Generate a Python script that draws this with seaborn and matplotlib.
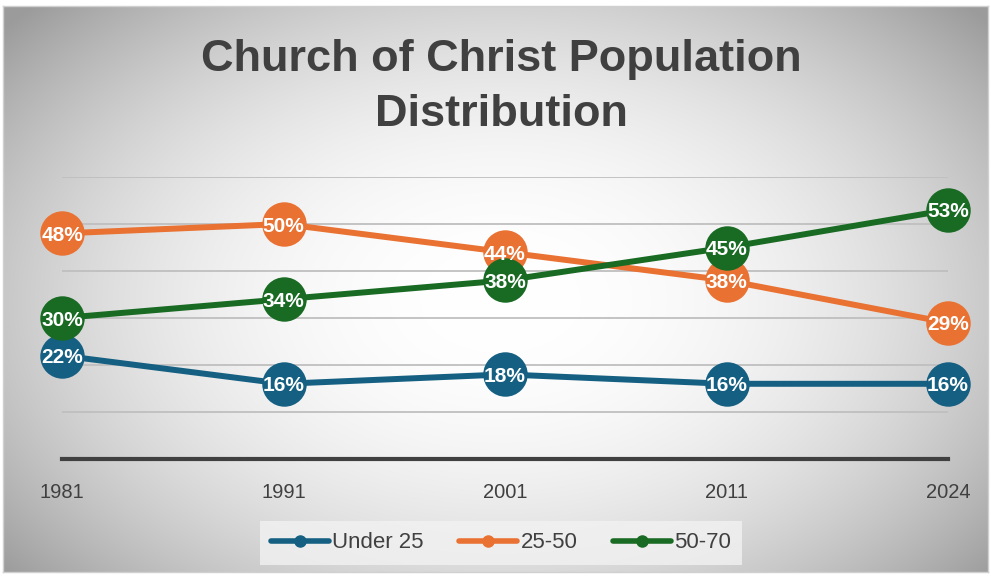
import numpy as np
import pandas as pd
import matplotlib
matplotlib.use("Agg")
import matplotlib.pyplot as plt
import seaborn as sns
from matplotlib.lines import Line2D

years = ["1981", "1991", "2001", "2011", "2024"]
under25 = [22, 16, 18, 16, 16]
age25_50 = [48, 50, 44, 38, 29]
age50_70 = [30, 34, 38, 45, 53]
series_names = ["Under 25", "25-50", "50-70"]
colors = ["#156082", "#E97132", "#196B24"]
title = "Church of Christ Population\nDistribution"

sns.set_theme(style="white")
plt.rcParams['font.family'] = ['Liberation Sans', 'DejaVu Sans']

W, H = 991, 577
fig = plt.figure(figsize=(W / 100, H / 100), dpi=100)
fig.patch.set_facecolor("white")

# background radial gradient panel
bx0, by0, bx1, by1 = 3, 6, 988, 572
bg = fig.add_axes([bx0 / W, 1 - by1 / H, (bx1 - bx0) / W, (by1 - by0) / H], zorder=0)
yy, xx = np.mgrid[by0:by1, bx0:bx1]
r = np.sqrt(((xx - 500) / 520.0) ** 2 + ((yy - 300) / 340.0) ** 2)
v = 1.0 - 0.24 * np.clip(r, 0, 1.25) ** 2.2
bg.imshow(np.dstack([v, v, v]), aspect="auto", extent=[0, 1, 0, 1], vmin=0, vmax=1)
bg.set_xticks([]); bg.set_yticks([])
for s in bg.spines.values():
    s.set_color("#d0d0d0"); s.set_linewidth(1)

# main axes
x0, x1 = 62, 948
ytop, ybot = 177, 459
ax = fig.add_axes([x0 / W, 1 - ybot / H, (x1 - x0) / W, (ybot - ytop) / H], zorder=2)
ax.patch.set_alpha(0)

df = pd.DataFrame({
    "Year": years * 3,
    "Value": under25 + age25_50 + age50_70,
    "Series": sum([[n] * len(years) for n in series_names], []),
})
df["pos"] = df["Year"].map({y: i for i, y in enumerate(years)})

sns.lineplot(data=df, x="pos", y="Value", hue="Series", palette=colors,
             hue_order=series_names, marker="o", markersize=32, linewidth=4.3,
             markeredgewidth=0, legend=False, ax=ax, clip_on=False, zorder=3)
for ln in ax.lines:
    ln.set_clip_on(False)

for name, vals in zip(series_names, [under25, age25_50, age50_70]):
    for i, val in enumerate(vals):
        ax.text(i, val, f"{val}%", ha="center", va="center_baseline", color="white",
                fontsize=15, fontweight="bold", zorder=5)

ax.set_xlim(0, len(years) - 1)
ax.set_ylim(0, 60)
ax.set_yticks([10, 20, 30, 40, 50, 60])
ax.yaxis.grid(True, color="#bfbfbf", linewidth=1.3, zorder=1)
ax.xaxis.grid(False)
ax.set_yticklabels([])
ax.tick_params(axis="y", length=0)
ax.set_xticks(range(len(years)))
ax.set_xticklabels(years, fontsize=14.5, color="#404040")
ax.tick_params(axis="x", length=0, pad=17)
ax.set_xlabel(""); ax.set_ylabel("")
for k in ["left", "right", "top"]:
    ax.spines[k].set_visible(False)
ax.spines["bottom"].set_color("#404040")
ax.spines["bottom"].set_linewidth(3)

fig.text(0.506, 1 - 87 / H, title, ha="center", va="center", fontsize=32.5,
         fontweight="bold", color="#404040", linespacing=1.42)

handles = [Line2D([0], [0], color=c, lw=4, marker="o", markersize=8,
                  solid_capstyle="round") for c in colors]
leg = fig.legend(handles, series_names, loc="center", bbox_to_anchor=(501 / W, 1 - 543 / H),
                 ncol=3, frameon=True, fontsize=16, handlelength=2.6,
                 handletextpad=0.15, columnspacing=1.6, borderpad=0.5)
leg.get_frame().set_facecolor("#f2f2f2")
leg.get_frame().set_edgecolor("none")
leg.get_frame().set_boxstyle("square", pad=0)
for t in leg.get_texts():
    t.set_color("#404040")
leg.set_zorder(4)

fig.savefig("out.png", dpi=100)
